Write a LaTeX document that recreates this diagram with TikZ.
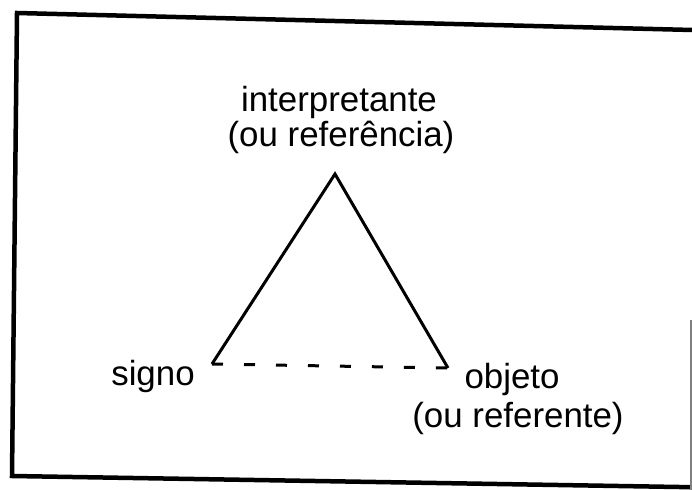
\documentclass[tikz,border=0pt]{standalone}
\usepackage{fontspec}
\setmainfont{Liberation Sans}
\begin{document}
\begin{tikzpicture}[x=1bp,y=-1bp,
  lbl/.style={inner sep=0pt, anchor=base, font=\fontsize{35}{35}\selectfont},
  edge/.style={line width=3bp, line join=miter},
  frame/.style={line width=4.5bp, line join=miter}]
\useasboundingbox (0,0) rectangle (692,490);
\clip (0,0) rectangle (692,490);
% frame of the scanned figure
\draw[frame] (740,31.2) -- (17,13) -- (12,476) -- (740,488);
\draw[gray, line width=1.2bp] (691,320) -- (691,490);
% triangle
\coordinate (A) at (335,174);
\coordinate (S) at (212,364);
\coordinate (O) at (448,368);
\draw[edge] (S) -- (A) -- (O);
\draw[edge, dash pattern=on 11bp off 21bp] (S) -- (O);
% labels
\node[lbl] (interp1) at (339,112) {interpretante};
\node[lbl] (interp2) at (341,147) {(ou referência)};
\node[lbl] (signo) at (153,385) {signo};
\node[lbl] (obj1) at (512,388) {objeto};
\node[lbl] (obj2) at (518,427) {(ou referente)};
\end{tikzpicture}
\end{document}
